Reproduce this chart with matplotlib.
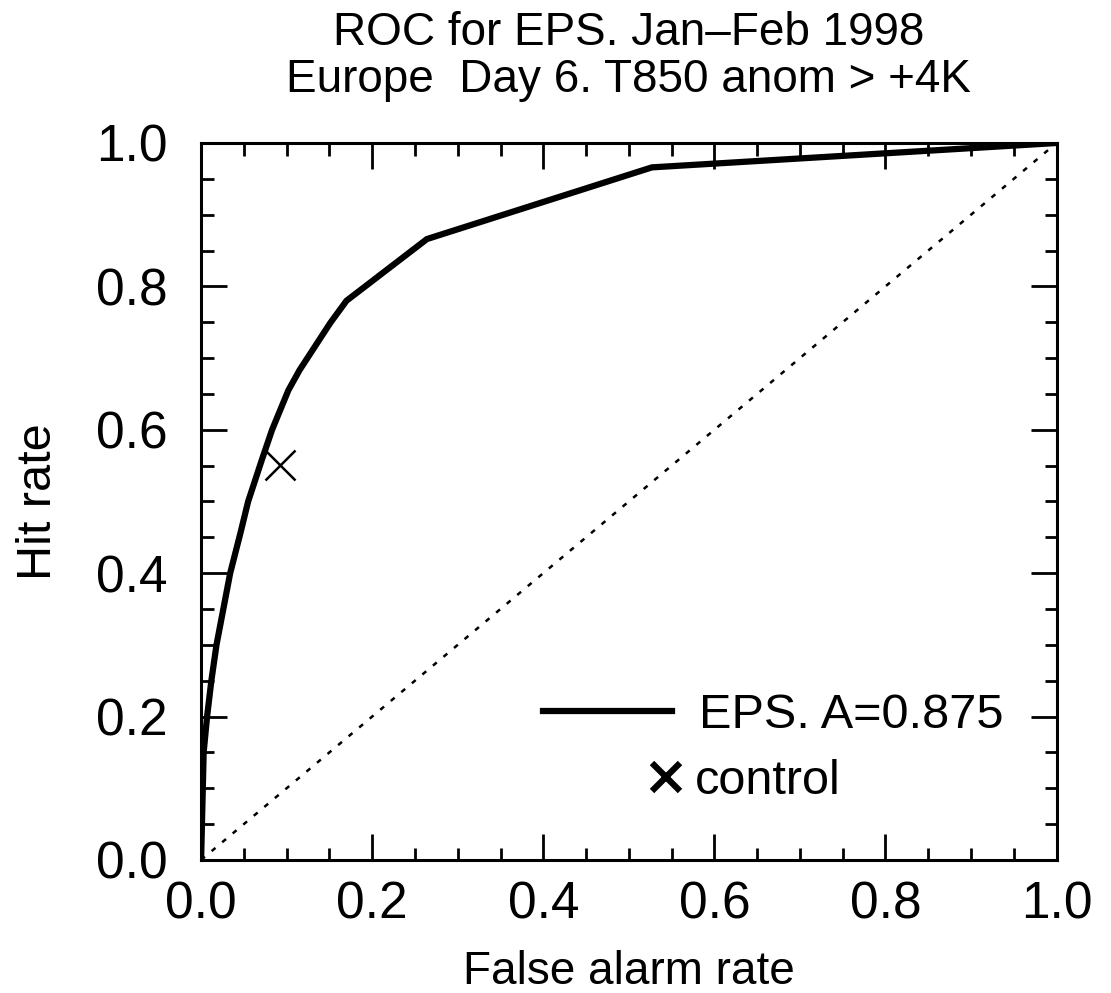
import numpy as np
import matplotlib
matplotlib.use("Agg")
import matplotlib.pyplot as plt
from matplotlib.lines import Line2D
from matplotlib.ticker import MultipleLocator, FormatStrFormatter

plt.rcParams['font.family'] = ['Liberation Sans', 'DejaVu Sans']

# ROC curve
false_alarm = [0.0, 0.003, 0.007, 0.012, 0.018, 0.026, 0.034, 0.046, 0.055,
               0.071, 0.083, 0.102, 0.115, 0.151, 0.170, 0.264, 0.527, 1.0]
hit_rate = [0.0, 0.15, 0.20, 0.25, 0.30, 0.35, 0.40, 0.456, 0.50,
            0.558, 0.60, 0.655, 0.683, 0.749, 0.780, 0.866, 0.966, 1.0]

control_far = [0.092]
control_hr = [0.551]

diag = [0.0, 1.0]
roc_area = 0.875

fig = plt.figure(figsize=(11.11, 9.93), dpi=100)
ax = fig.add_axes([0.181, 0.134, 0.770, 0.722])

ax.plot(diag, diag, color='black', linestyle=(0, (2, 3.5)), linewidth=1.8)
ax.plot(false_alarm, hit_rate, color='black', linewidth=4.5, solid_joinstyle='miter')
ax.plot(control_far, control_hr, linestyle='none', marker='x', color='black',
        markersize=21, markeredgewidth=1.8)

ax.set_xlim(0, 1)
ax.set_ylim(0, 1)
ax.xaxis.set_major_locator(MultipleLocator(0.2))
ax.xaxis.set_minor_locator(MultipleLocator(0.05))
ax.yaxis.set_major_locator(MultipleLocator(0.2))
ax.yaxis.set_minor_locator(MultipleLocator(0.05))
ax.xaxis.set_major_formatter(FormatStrFormatter('%.1f'))
ax.yaxis.set_major_formatter(FormatStrFormatter('%.1f'))
ax.tick_params(which='both', direction='in', top=True, right=True, width=2, labelsize=37)
ax.tick_params(which='major', length=19)
ax.tick_params(which='minor', length=9)
ax.tick_params(axis='x', which='major', pad=15)
ax.tick_params(axis='y', which='major', pad=24)
for s in ax.spines.values():
    s.set_linewidth(2.2)

ax.set_xlabel('False alarm rate', fontsize=33)
ax.xaxis.set_label_coords(0.5, -0.173)
ax.xaxis.label.set_va('baseline')
ax.set_ylabel('Hit rate', fontsize=35, labelpad=25)
ax.set_title('ROC for EPS. Jan\u2013Feb 1998\nEurope  Day 6. T850 anom > +4K',
             fontsize=33, pad=37, linespacing=1.08)

h1 = Line2D([], [], color='black', linewidth=4.5)
leg1 = ax.legend([h1], [f'EPS. A={roc_area}'], loc='center left', frameon=False,
                 fontsize=35, handlelength=2.65, handletextpad=0.55,
                 bbox_to_anchor=(0.40, 0.202), borderaxespad=0, borderpad=0)
ax.add_artist(leg1)
h2 = Line2D([], [], linestyle='none', marker='x', color='black',
            markersize=20, markeredgewidth=4.5)
ax.legend([h2], ['control'], loc='center left', frameon=False, fontsize=35,
          handlelength=0.6, handletextpad=0.3,
          bbox_to_anchor=(0.526, 0.110), borderaxespad=0, borderpad=0)

fig.savefig('out.png', dpi=100)
